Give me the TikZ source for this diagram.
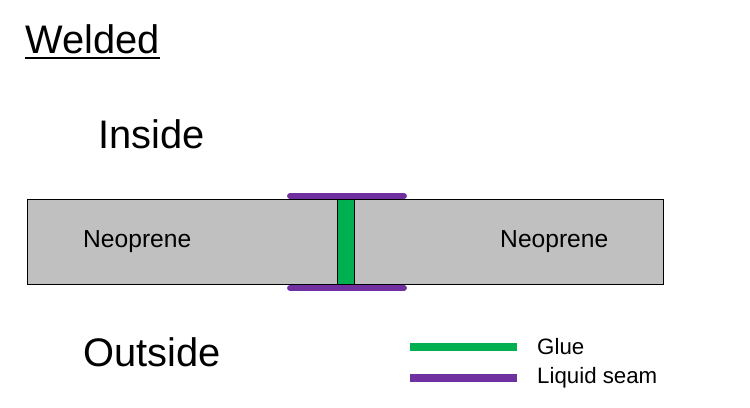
\documentclass[tikz,border=0pt]{standalone}
\usepackage{fontspec}
\setmainfont{Liberation Sans}
\usetikzlibrary{positioning}
\definecolor{foam}{HTML}{C0C0C0}
\definecolor{gluegreen}{HTML}{00B050}
\definecolor{seampurple}{HTML}{7030A0}
\begin{document}
\begin{tikzpicture}[x=0.03cm,y=-0.03cm,
 big/.style={font=\fontsize{34}{40}\selectfont,inner sep=0pt,anchor=base west},
 lbl/.style={font=\fontsize{21}{25}\selectfont,inner sep=0pt,anchor=west},
 key/.style={font=\fontsize{19}{23}\selectfont,inner sep=0pt,anchor=west},
 piece/.style={draw=black,line width=0.8pt,fill=foam,minimum height=2.55cm,anchor=north west,inner sep=0pt},
 gluebox/.style={draw=black,line width=0.8pt,fill=gluegreen,minimum height=2.55cm,minimum width=0.51cm,anchor=north west,inner sep=0pt},
 seam/.style={seampurple,line width=5pt,line cap=round},
 keyline/.style={line width=7.5pt}]
\useasboundingbox (0,0) rectangle (750,407);
\node[big](welded) at (25,53){Welded};
\draw[line width=1.6pt]([yshift=-4pt]welded.base west)--([yshift=-4pt]welded.base east);
\node[big](inside) at (98,148){Inside};
\node[big](outside) at (83,366){Outside};
% neoprene pieces and joint
\node[piece,minimum width=9.3cm](left) at (27,199){};
\node[piece,minimum width=9.27cm](right) at (354,199){};
\node[gluebox](glue) at (337,199){};
\node[lbl] at (83,242){Neoprene};
\node[lbl] at (500,242){Neoprene};
\coordinate (ts) at (290,196);\coordinate (te) at (404,196);
\coordinate (bs) at (290,288);\coordinate (be) at (404,288);
\draw[seam](ts)--(te);
\draw[seam](bs)--(be);
% legend
\coordinate (g1) at (410,347);\coordinate (g2) at (517,347);
\coordinate (p1) at (410,378);\coordinate (p2) at (517,378);
\draw[keyline,gluegreen](g1)--(g2);
\draw[keyline,seampurple](p1)--(p2);
\node[key,right=0.6cm of g2]{Glue};
\node[key,right=0.6cm of p2]{Liquid seam};
\end{tikzpicture}
\end{document}
